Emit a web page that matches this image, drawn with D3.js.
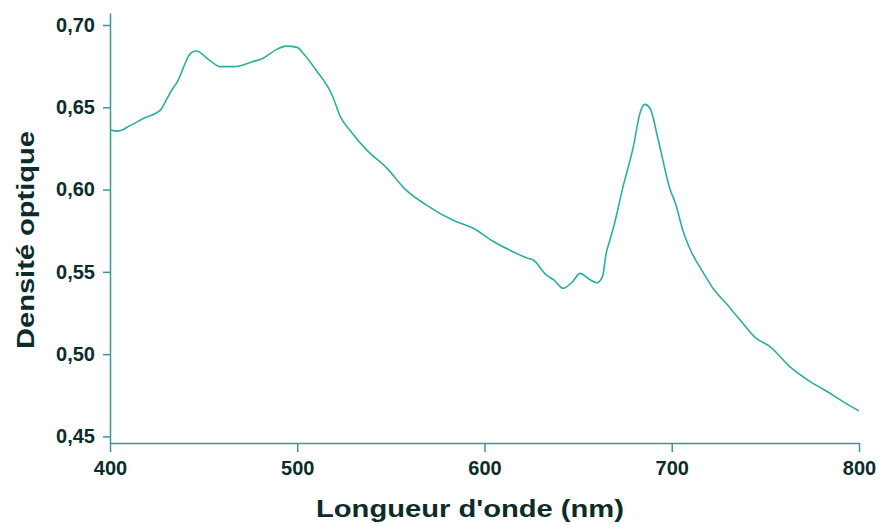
<!DOCTYPE html>
<html>
<head>
<meta charset="utf-8">
<script src="https://cdn.jsdelivr.net/npm/d3@7"></script>
<style>
    body { margin: 0; background: #ffffff; }
    svg text { font-family: "Liberation Sans", Arial, sans-serif; font-weight: bold; fill: #0c2c2b; }
</style>
</head>
<body>
<div id="chart"></div>
<script>
"use strict";

// wavelength (nm)
const wavelengths = [
    400, 404, 411, 418, 427, 430, 433, 436, 443, 446,
    453, 459, 466, 476, 482, 489, 494, 500, 503, 510,
    519, 523, 528, 537, 548, 558, 569, 583, 594, 605,
    617, 623, 626, 633, 637, 642, 647, 651, 656, 660,
    663, 665, 667, 669, 674, 679.5, 683, 685.7, 688.4, 692.8,
    699, 702, 706, 710, 717, 722, 729, 736.5, 745, 752.5,
    763, 774, 784.5, 793, 800
];

// optical density at each wavelength
const densities = [
    0.6362, 0.6355, 0.6390, 0.6433, 0.6484, 0.6544, 0.6605, 0.6656, 0.6828, 0.6842,
    0.6787, 0.6747, 0.6747, 0.6777, 0.6800, 0.6852, 0.6872, 0.6864, 0.6830, 0.6727,
    0.6564, 0.6443, 0.6362, 0.6241, 0.6129, 0.5998, 0.5906, 0.5815, 0.5765, 0.5683,
    0.5613, 0.5583, 0.5572, 0.5481, 0.5451, 0.5400, 0.5440, 0.5491, 0.5455, 0.5434,
    0.5471, 0.5613, 0.5694, 0.5775, 0.6018, 0.6261, 0.6464, 0.6518, 0.6494, 0.6301,
    0.6005, 0.5915, 0.5750, 0.5633, 0.5492, 0.5400, 0.5309, 0.5208, 0.5097, 0.5046,
    0.4924, 0.4833, 0.4762, 0.4701, 0.4655
];

const xTicks = [400, 500, 600, 700, 800];
const yTicks = [0.45, 0.50, 0.55, 0.60, 0.65, 0.70];

const xTitle = "Longueur d'onde (nm)";
const yTitle = "Densité optique";

const width = 880, height = 524;
const plotLeft = 110, plotRight = 859, plotTop = 13, plotBottom = 443;

const axisColor = "#3a978e";
const lineColor = "#2fae9f";

const svg = d3.select("#chart")
    .append("svg")
    .attr("width", width)
    .attr("height", height);

const x = d3.scaleLinear()
    .domain([400, 800])
    .range([plotLeft, plotRight]);

const y = d3.scaleLinear()
    .domain([0.446, 0.7073])
    .range([plotBottom, plotTop]);

const fmt = v => d3.format(".2f")(v).replace(".", ",");

// x axis
const xAxis = svg.append("g")
    .attr("transform", "translate(0," + plotBottom + ")")
    .call(d3.axisBottom(x).tickValues(xTicks).tickSize(9).tickSizeOuter(0).tickPadding(9));

// y axis
const yAxis = svg.append("g")
    .attr("transform", "translate(" + plotLeft + ",0)")
    .call(d3.axisLeft(y).tickValues(yTicks).tickFormat(fmt).tickSize(7).tickSizeOuter(0).tickPadding(8));

[xAxis, yAxis].forEach(g => {
    g.selectAll("path, line").attr("stroke", axisColor).attr("stroke-width", 1.5);
    g.selectAll("text").attr("font-size", 20).attr("fill", "#0c2c2b")
        .style("font-family", "'Liberation Sans', Arial, sans-serif").style("font-weight", "bold");
});

// axis titles
svg.append("text")
    .attr("x", 470)
    .attr("y", 517)
    .attr("text-anchor", "middle")
    .attr("font-size", 23)
    .attr("textLength", 308)
    .attr("lengthAdjust", "spacingAndGlyphs")
    .text(xTitle);

svg.append("text")
    .attr("transform", "translate(34,240) rotate(-90)")
    .attr("text-anchor", "middle")
    .attr("font-size", 23)
    .attr("textLength", 218)
    .attr("lengthAdjust", "spacingAndGlyphs")
    .text(yTitle);

// spectrum
const points = wavelengths.map((w, i) => [w, densities[i]]);

svg.append("path")
    .datum(points)
    .attr("fill", "none")
    .attr("stroke", lineColor)
    .attr("stroke-width", 1.6)
    .attr("stroke-linejoin", "round")
    .attr("d", d3.line()
        .curve(d3.curveMonotoneX)
        .x(d => x(d[0]))
        .y(d => y(d[1]))
    );
</script>
</body>
</html>
